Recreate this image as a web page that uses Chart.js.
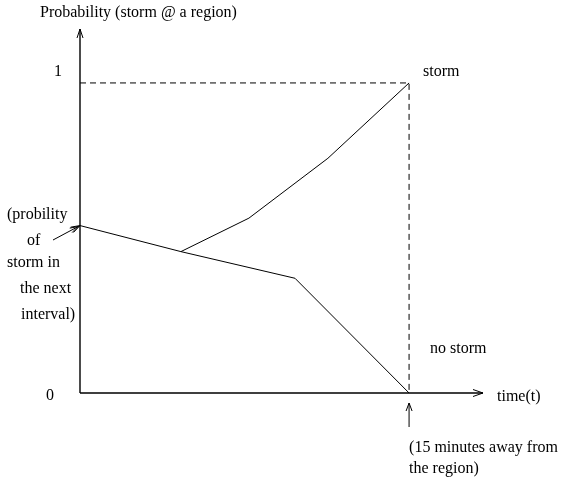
<!DOCTYPE html>
<html>
<head>
<meta charset="utf-8">
<script src="https://cdn.jsdelivr.net/npm/chart.js@4.4.1/dist/chart.umd.min.js"></script>
<style>
    html, body { margin: 0; padding: 0; background: #fff; }
    #wrap { width: 561px; height: 483px; }
</style>
</head>
<body>
<div id="wrap"><canvas id="chart" width="561" height="483"></canvas></div>
<script>
// time axis in minutes, 15 = the moment the storm reaches the region
const sharedTime = [0, 4.6];
const sharedProb = [0.54, 0.456];
const stormTime = [4.6, 7.7, 11.3, 15];
const stormProb = [0.456, 0.564, 0.757, 1];
const noStormTime = [4.6, 9.8, 15];
const noStormProb = [0.456, 0.37, 0];

const yTickValues = [0, 1];
const yTickLabels = ['0', '1'];
const arrivalTime = 15;

const FONT = '16px "Liberation Serif", "Times New Roman", serif';

function pts(xs, ys) {
    return xs.map((x, i) => ({ x: x, y: ys[i] }));
}

function arrowHead(ctx, x, y, angle, len, half) {
    ctx.beginPath();
    ctx.moveTo(x - len * Math.cos(angle) - half * Math.sin(angle), y - len * Math.sin(angle) + half * Math.cos(angle));
    ctx.lineTo(x, y);
    ctx.lineTo(x - len * Math.cos(angle) + half * Math.sin(angle), y - len * Math.sin(angle) - half * Math.cos(angle));
    ctx.stroke();
}

// axes, arrows and all the annotation text
const sketchPlugin = {
    id: 'sketch',
    afterDatasetsDraw(chart) {
        const ctx = chart.ctx;
        const xs = chart.scales.x;
        const ys = chart.scales.y;
        const x0 = xs.getPixelForValue(0);
        const y0 = ys.getPixelForValue(0);
        const xEnd = xs.getPixelForValue(xs.max);
        const yEnd = ys.getPixelForValue(ys.max);
        const xArr = xs.getPixelForValue(arrivalTime);

        ctx.save();
        ctx.strokeStyle = '#000';
        ctx.lineWidth = 1.4;
        ctx.beginPath();
        ctx.moveTo(x0, y0);
        ctx.lineTo(x0, yEnd);
        ctx.moveTo(x0, y0);
        ctx.lineTo(xEnd, y0);
        ctx.stroke();

        ctx.lineWidth = 1;
        arrowHead(ctx, x0, yEnd, -Math.PI / 2, 9, 3);
        arrowHead(ctx, xEnd, y0, 0, 10, 3.5);

        // arrow pointing up at the arrival time
        ctx.beginPath();
        ctx.moveTo(xArr, y0 + 34);
        ctx.lineTo(xArr, y0 + 10);
        ctx.stroke();
        arrowHead(ctx, xArr, y0 + 10, -Math.PI / 2, 8, 3);

        // arrow from the side note to the start value
        const sx = x0, sy = ys.getPixelForValue(sharedProb[0]);
        const ang = Math.atan2(sy - 240, sx - 53);
        ctx.beginPath();
        ctx.moveTo(53, 240);
        ctx.lineTo(sx, sy);
        ctx.stroke();
        arrowHead(ctx, sx, sy, ang, 9, 3);
        arrowHead(ctx, sx - 2, sy + 1, ang, 8, 2.5);

        ctx.fillStyle = '#000';
        ctx.font = FONT;
        ctx.textBaseline = 'middle';
        ctx.textAlign = 'left';
        ctx.fillText('Probability (storm @ a region)', 40, 13);
        ctx.fillText('storm', xArr + 14, 72);
        ctx.fillText('no storm', xArr + 21, 349);
        ctx.fillText('time(t)', xEnd + 14, 397);
        ctx.fillText('(15 minutes away from', xArr, 448);
        ctx.fillText('the region)', xArr, 469);

        yTickValues.forEach((v, i) => {
            ctx.fillText(yTickLabels[i], i === 0 ? 46 : 54, ys.getPixelForValue(v) + (i === 0 ? 3 : -11));
        });
        ctx.fillText('(probility', 7, 215);
        ctx.fillText('of', 27, 241);
        ctx.fillText('storm in', 7, 263);
        ctx.fillText('the next', 20, 289);
        ctx.fillText('interval)', 21, 315);
        ctx.restore();
    }
};

const lineStyle = { borderColor: '#000', borderWidth: 1, pointRadius: 0, tension: 0, fill: false };

new Chart(document.getElementById('chart'), {
    type: 'line',
    data: {
        datasets: [
            { ...lineStyle, data: pts(sharedTime, sharedProb) },
            { ...lineStyle, data: pts(stormTime, stormProb) },
            { ...lineStyle, data: pts(noStormTime, noStormProb) },
            { ...lineStyle, borderDash: [6, 4], data: [{ x: 0, y: 1 }, { x: arrivalTime, y: 1 }, { x: arrivalTime, y: 0 }] }
        ]
    },
    options: {
        responsive: false,
        animation: false,
        layout: { padding: { left: 80, right: 78, top: 29, bottom: 90 } },
        plugins: { legend: { display: false }, tooltip: { enabled: false } },
        scales: {
            x: { type: 'linear', display: false, min: 0, max: 18.37 },
            y: { type: 'linear', display: false, min: 0, max: 1.174 }
        }
    },
    plugins: [sketchPlugin]
});
</script>
</body>
</html>
